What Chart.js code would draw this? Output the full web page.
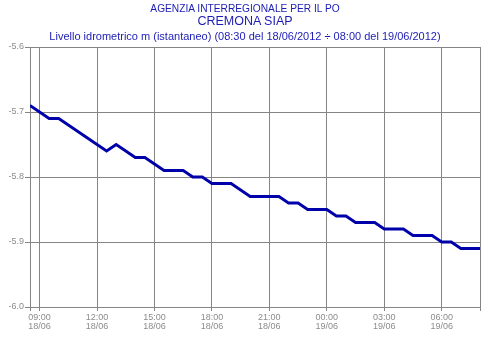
<!DOCTYPE html>
<html>
<head>
<meta charset="utf-8">
<script src="https://cdn.jsdelivr.net/npm/chart.js@4/dist/chart.umd.min.js"></script>
<style>
  html, body { margin: 0; padding: 0; background: #fff; }
  #wrap { position: relative; width: 488px; height: 339px; overflow: hidden; }
  .t { position: absolute; left: 0; width: 490px; text-align: center; color: #1c1cb4;
       font-family: "Liberation Sans", Arial, sans-serif; white-space: nowrap; }
  #t1 { top: 3px; font-size: 10.2px; }
  #t2 { top: 14px; font-size: 12.5px; }
  #t3 { top: 30px; font-size: 11px; }
  canvas { position: absolute; left: 0; top: 0; }
</style>
</head>
<body>
<div id="wrap">
  <canvas id="c" width="488" height="339"></canvas>
  <div class="t" id="t1">AGENZIA INTERREGIONALE PER IL PO</div>
  <div class="t" id="t2">CREMONA SIAP</div>
  <div class="t" id="t3">Livello idrometrico m (istantaneo) (08:30 del 18/06/2012 ÷ 08:00 del 19/06/2012)</div>
</div>
<script>
// hours since 00:00 of 18/06/2012, half-hourly readings
const hours = [8.5, 9, 9.5, 10, 10.5, 11, 11.5, 12, 12.5, 13, 13.5, 14, 14.5, 15, 15.5, 16,
  16.5, 17, 17.5, 18, 18.5, 19, 19.5, 20, 20.5, 21, 21.5, 22, 22.5, 23, 23.5, 24,
  24.5, 25, 25.5, 26, 26.5, 27, 27.5, 28, 28.5, 29, 29.5, 30, 30.5, 31, 31.5, 32];
const levels = [-5.69, -5.70, -5.71, -5.71, -5.72, -5.73, -5.74, -5.75, -5.76, -5.75, -5.76, -5.77,
  -5.77, -5.78, -5.79, -5.79, -5.79, -5.80, -5.80, -5.81, -5.81, -5.81, -5.82, -5.83,
  -5.83, -5.83, -5.83, -5.84, -5.84, -5.85, -5.85, -5.85, -5.86, -5.86, -5.87, -5.87,
  -5.87, -5.88, -5.88, -5.88, -5.89, -5.89, -5.89, -5.90, -5.90, -5.91, -5.91, -5.91];
const xTickHours = [9, 12, 15, 18, 21, 24, 27, 30];
const xTickLabels = [['09:00', '18/06'], ['12:00', '18/06'], ['15:00', '18/06'], ['18:00', '18/06'],
  ['21:00', '18/06'], ['00:00', '19/06'], ['03:00', '19/06'], ['06:00', '19/06']];
const yTicks = [-6.0, -5.9, -5.8, -5.7, -5.6];
const xMin = 8.5, xMax = 32;

const gridColor = '#858585';
const tickColor = '#8c8c8c';

new Chart(document.getElementById('c'), {
  type: 'line',
  data: {
    datasets: [{
      data: hours.map((h, i) => ({ x: h, y: levels[i] })),
      borderColor: '#0000aa',
      borderWidth: 2.8,
      pointRadius: 0,
      tension: 0,
      fill: false
    }]
  },
  options: {
    responsive: false,
    animation: false,
    events: [],
    layout: { padding: { top: 47, right: 8, left: 0, bottom: 0 } },
    plugins: { legend: { display: false }, title: { display: false }, tooltip: { enabled: false } },
    scales: {
      x: {
        type: 'linear',
        min: xMin, max: xMax,
        afterBuildTicks: s => { s.ticks = [xMin, ...xTickHours, xMax].map(v => ({ value: v })); },
        afterFit: s => { s.height = 32; },
        grid: { color: gridColor, lineWidth: 1, tickLength: 4, drawTicks: true },
        border: { display: true, color: gridColor, width: 1 },
        ticks: {
          autoSkip: false, maxRotation: 0, padding: 2, color: tickColor,
          font: { family: '"Liberation Sans", Arial, sans-serif', size: 9, lineHeight: 1 },
          callback: v => { const i = xTickHours.indexOf(v); return i >= 0 ? xTickLabels[i] : ''; }
        }
      },
      y: {
        type: 'linear',
        min: -6.0, max: -5.6,
        afterBuildTicks: s => { s.ticks = yTicks.map(v => ({ value: v })); },
        afterFit: s => { s.width = 30; },
        grid: { color: gridColor, lineWidth: 1, tickLength: 5 },
        border: { display: true, color: gridColor, width: 1 },
        ticks: {
          padding: 1, color: tickColor,
          font: { family: '"Liberation Sans", Arial, sans-serif', size: 9 },
          callback: v => Number(v).toFixed(1)
        }
      }
    }
  }
});
</script>
</body>
</html>
